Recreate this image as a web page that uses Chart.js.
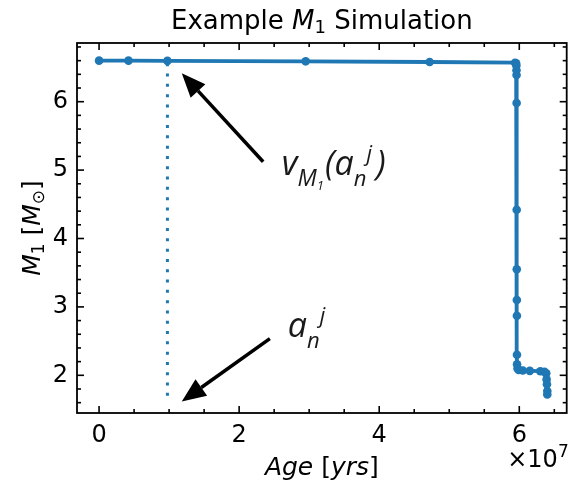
<!DOCTYPE html>
<html><head><meta charset="utf-8">
<script src="https://cdn.jsdelivr.net/npm/chart.js@4/dist/chart.umd.min.js"></script>
<style>html,body{margin:0;padding:0;background:#fff}canvas{display:block}</style>
</head><body>
<canvas id="c" width="571" height="484"></canvas>
<script>
// ---- data (ages in years, masses in solar masses) ----
const ages = [0, 0.42e7, 0.976e7, 2.95e7, 4.72e7, 5.94e7, 5.955e7, 5.958e7, 5.96e7, 5.961e7,
  5.962e7, 5.963e7, 5.964e7, 5.965e7, 5.966e7, 5.967e7, 5.968e7, 5.975e7, 5.99e7, 6.05e7,
  6.15e7, 6.30e7, 6.36e7, 6.385e7, 6.39e7, 6.395e7, 6.40e7, 6.40e7];
const masses = [6.60, 6.60, 6.597, 6.59, 6.58, 6.57, 6.56, 6.53, 6.46, 6.39,
  5.98, 4.42, 3.55, 3.10, 2.87, 2.30, 2.16, 2.10, 2.08, 2.07,
  2.065, 2.06, 2.05, 2.03, 1.94, 1.87, 1.77, 1.72];
const markerAge = 0.976e7;          // a_n^j
const markerMass = [1.70, 6.597];   // dotted line extent
const xTickValues = [0, 2e7, 4e7, 6e7];
const yTickValues = [2, 3, 4, 5, 6];
// annotation anchor points (data coords): [tipX, tipY, tailX, tailY]
const arrowUpper = [1.181e7, 6.416, 2.343e7, 5.122];
const arrowLower = [1.181e7, 1.618, 2.439e7, 2.536];
const textUpperAt = [2.61e7, 4.93];
const textLowerAt = [2.695e7, 2.555];

const BLUE = '#1f77b4';
const DJ = '"DejaVu Sans"';

function drawRich(ctx, x, y, runs, align) {
  let w = 0;
  for (const r of runs) { ctx.font = r.f; w += ctx.measureText(r.t).width + (r.dx || 0); }
  let cx = align === 'center' ? x - w / 2 : align === 'right' ? x - w : x;
  for (const r of runs) {
    ctx.font = r.f; cx += (r.dx || 0);
    ctx.fillText(r.t, cx, y + (r.dy || 0));
    cx += ctx.measureText(r.t).width;
  }
}

function drawArrow(ctx, tx, ty, sx, sy) {
  const ang = Math.atan2(sy - ty, sx - tx);
  const L = 24, H = 10;
  const bx = tx + L * Math.cos(ang), by = ty + L * Math.sin(ang);
  ctx.strokeStyle = '#000'; ctx.lineWidth = 3.5; ctx.lineCap = 'butt';
  ctx.beginPath(); ctx.moveTo(sx, sy); ctx.lineTo(bx, by); ctx.stroke();
  ctx.fillStyle = '#000';
  ctx.beginPath();
  ctx.moveTo(tx, ty);
  ctx.lineTo(bx + H * Math.sin(ang), by - H * Math.cos(ang));
  ctx.lineTo(bx - H * Math.sin(ang), by + H * Math.cos(ang));
  ctx.closePath(); ctx.fill();
}

const decor = {
  id: 'decor',
  afterDraw(chart) {
    const ctx = chart.ctx, a = chart.chartArea, xs = chart.scales.x, ys = chart.scales.y;
    ctx.save();
    // frame
    ctx.strokeStyle = '#000'; ctx.lineWidth = 1.8;
    ctx.strokeRect(a.left, a.top, a.right - a.left, a.bottom - a.top);
    // ticks inward on all sides
    ctx.lineWidth = 1.6;
    const tick = (x1, y1, x2, y2) => { ctx.beginPath(); ctx.moveTo(x1, y1); ctx.lineTo(x2, y2); ctx.stroke(); };
    for (let v = Math.ceil(xs.min / 0.5e7) * 0.5e7; v <= xs.max; v += 0.5e7) {
      const px = xs.getPixelForValue(v);
      const major = Math.abs(v / 2e7 - Math.round(v / 2e7)) < 1e-6;
      const L = major ? 7 : 4;
      tick(px, a.bottom, px, a.bottom - L); tick(px, a.top, px, a.top + L);
    }
    for (let k = Math.ceil(ys.min / 0.2); k * 0.2 <= ys.max + 1e-9; k++) {
      const v = k * 0.2;
      const py = ys.getPixelForValue(v);
      const major = k % 5 === 0;
      const L = major ? 7 : 4;
      tick(a.left, py, a.left + L, py); tick(a.right, py, a.right - L, py);
    }
    // title
    ctx.fillStyle = '#000'; ctx.textBaseline = 'alphabetic';
    drawRich(ctx, (a.left + a.right) / 2, 29, [
      { t: 'Example ', f: `26px ${DJ}` },
      { t: 'M', f: `oblique 26px ${DJ}` },
      { t: '1', f: `18px ${DJ}`, dy: 4 },
      { t: ' Simulation', f: `26px ${DJ}` }
    ], 'center');
    // x label
    drawRich(ctx, (a.left + a.right) / 2, 475, [
      { t: 'Age', f: `oblique 25px ${DJ}` },
      { t: ' [', f: `25px ${DJ}` },
      { t: 'yrs', f: `oblique 25px ${DJ}` },
      { t: ']', f: `25px ${DJ}` }
    ], 'center');
    // offset text
    drawRich(ctx, a.right + 2, 467, [
      { t: '\u00d710', f: `24px ${DJ}` },
      { t: '7', f: `17px ${DJ}`, dy: -10 }
    ], 'right');
    // y label
    ctx.save();
    ctx.translate(40, (a.top + a.bottom) / 2);
    ctx.rotate(-Math.PI / 2);
    drawRich(ctx, 0, 0, [
      { t: 'M', f: `oblique 25px ${DJ}` },
      { t: '1', f: `17px ${DJ}`, dy: 4 },
      { t: ' [', f: `25px ${DJ}` },
      { t: 'M', f: `oblique 25px ${DJ}` },
      { t: '\u2299', f: `17px ${DJ}`, dy: 4 },
      { t: ']', f: `25px ${DJ}` }
    ], 'center');
    ctx.restore();
    // arrows
    for (const ar of [arrowUpper, arrowLower]) {
      drawArrow(ctx, xs.getPixelForValue(ar[0]), ys.getPixelForValue(ar[1]),
        xs.getPixelForValue(ar[2]), ys.getPixelForValue(ar[3]));
    }
    // annotation texts
    const AF = '"Open Sans"';
    ctx.fillStyle = '#1a1a1a';
    drawRich(ctx, xs.getPixelForValue(textUpperAt[0]), ys.getPixelForValue(textUpperAt[1]), [
      { t: 'v', f: `italic 34px ${AF}` },
      { t: 'M', f: `italic 23px ${AF}`, dy: 11 },
      { t: '1', f: `italic 13px ${AF}`, dy: 15 },
      { t: '(', f: `italic 34px ${AF}`, dx: 1 },
      { t: 'a', f: `italic 34px ${AF}` },
      { t: 'n', f: `italic 22px ${AF}`, dy: 11 },
      { t: 'j', f: `italic 22px ${AF}`, dy: -14, dx: 0 },
      { t: ')', f: `italic 34px ${AF}`, dx: 4 }
    ], 'left');
    drawRich(ctx, xs.getPixelForValue(textLowerAt[0]), ys.getPixelForValue(textLowerAt[1]), [
      { t: 'a', f: `italic 34px ${AF}` },
      { t: 'n', f: `italic 22px ${AF}`, dy: 11 },
      { t: 'j', f: `italic 22px ${AF}`, dy: -14, dx: 0 }
    ], 'left');
    ctx.restore();
  }
};

const pts = ages.map((x, i) => ({ x, y: masses[i] }));

new Chart(document.getElementById('c'), {
  type: 'scatter',
  data: {
    datasets: [
      {
        data: [{ x: markerAge, y: markerMass[0] }, { x: markerAge, y: markerMass[1] }],
        showLine: true, borderColor: BLUE, borderWidth: 3, borderDash: [3, 7.3],
        borderCapStyle: 'butt', pointRadius: 0
      },
      {
        data: pts, showLine: true, borderColor: BLUE, backgroundColor: BLUE,
        borderWidth: 3.8, pointRadius: 4.3, pointBorderWidth: 0, pointHoverRadius: 4.3
      }
    ]
  },
  options: {
    responsive: false, animation: false, devicePixelRatio: 1,
    layout: { padding: { left: 0, top: 43, right: 4, bottom: 0 } },
    plugins: { legend: { display: false }, tooltip: { enabled: false }, title: { display: false } },
    scales: {
      x: {
        type: 'linear', min: -0.315e7, max: 6.677e7,
        grid: { display: false, drawTicks: false },
        border: { display: false },
        afterBuildTicks: s => { s.ticks = xTickValues.map(v => ({ value: v })); },
        afterFit: s => { s.height = 71; },
        ticks: { padding: 8, color: '#000', font: { family: 'DejaVu Sans', size: 24 },
          maxRotation: 0, callback: v => String(Math.round(v / 1e7)) }
      },
      y: {
        type: 'linear', min: 1.449, max: 6.858,
        grid: { display: false, drawTicks: false },
        border: { display: false },
        afterBuildTicks: s => { s.ticks = yTickValues.map(v => ({ value: v })); },
        afterFit: s => { s.width = 77; },
        ticks: { padding: 9, color: '#000', font: { family: 'DejaVu Sans', size: 24 },
          callback: v => String(v) }
      }
    }
  },
  plugins: [decor]
});
</script>
</body></html>
